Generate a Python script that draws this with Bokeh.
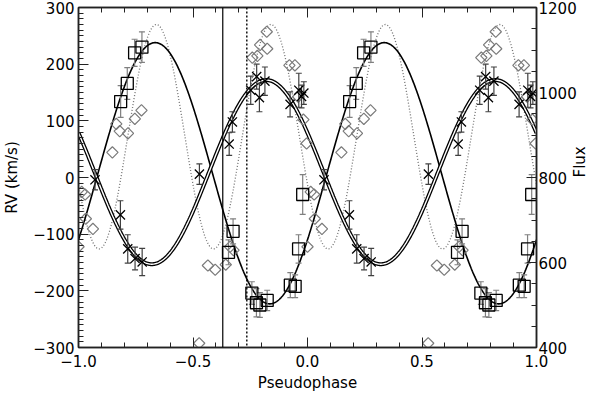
import numpy as np
from bokeh.plotting import figure
from bokeh.models import Range1d, LinearAxis, FixedTicker, ColumnDataSource, Span
from bokeh.embed import file_html
from bokeh.resources import INLINE

# ---------------- data (phase in [0,1), plotted at phase-1 and phase) -------------
sq_phase = [0.184, 0.213, 0.245, 0.277, 0.655, 0.675, 0.757, 0.777, 0.792, 0.824,
            0.925, 0.946, 0.961, 0.979]
sq_rv = [134, 166, 220, 230, -132, -95, -204, -221, -225, -217,
         -190, -192, -126, -30]
sq_err = [28, 28, 24, 27, 22, 22, 20, 25, 22, 18, 22, 20, 25, 35]

xs_phase = [0.072, 0.183, 0.215, 0.247, 0.278, 0.528, 0.658, 0.672, 0.752, 0.778,
            0.790, 0.814, 0.924, 0.962, 0.974, 0.984]
xs_rv = [-4, -66, -126, -143, -149, 6, 59, 98, 154, 178,
         141, 170, 129, 154, 143, 149]
xs_err = [18, 25, 25, 20, 24, 18, 20, 18, 25, 22, 25, 25, 22, 30, 20, 20]

fl_phase = [0.000, 0.014, 0.029, 0.032, 0.063, 0.148, 0.165, 0.180, 0.216, 0.246,
            0.275, 0.527, 0.565, 0.597, 0.643, 0.662, 0.677, 0.759, 0.781, 0.793,
            0.822, 0.824, 0.921, 0.945, 0.959, 0.982, 0.996]
fl_flux = [637, 766, 760, 703, 679, 859, 926, 909, 904, 938,
           958, 410, 593, 583, 595, 637, 629, 1082, 1086, 1112,
           1143, 1103, 1064, 1064, 990, 936, 880]

# fitted model curves: parameters
sq_gamma, sq_K, sq_phase_max = 7.5, 230.5, 0.335
xs_gamma, xs_K, xs_phase_max = 9.5, 162.5, 0.82
fl_mean, fl_amp, fl_phase_max = 896.0, 264.0, 0.34   # ellipsoidal (half-period)

vline_solid = -0.37
vline_dotted = -0.265

rv_ticks = [-300, -200, -100, 0, 100, 200, 300]
rv_labels = ["\u2212300", "\u2212200", "\u2212100", "0", "100", "200", "300"]
flux_ticks = [400, 600, 800, 1000, 1200]
flux_labels = ["400", "600", "800", "1000", "1200"]
ph_ticks = [-1.0, -0.5, 0.0, 0.5, 1.0]
ph_labels = ["\u22121.0", "\u22120.5", "0.0", "0.5", "1.0"]


def two_cycles(ph, *vals):
    out = [[v - 1 for v in ph] + list(ph)]
    for v in vals:
        out.append(list(v) * 2)
    return out


FONT = "DejaVu Sans"
FS = "15px"

p = figure(width=600, height=395, x_range=Range1d(-1, 1), y_range=Range1d(-300, 300),
           output_backend="svg", toolbar_location=None,
           min_border_left=78, min_border_right=62, min_border_top=7, min_border_bottom=48)
p.extra_y_ranges = {"flux": Range1d(400, 1200)}
p.xgrid.visible = False
p.ygrid.visible = False
p.outline_line_color = "#222222"
p.outline_line_width = 1.5
p.background_fill_color = "white"
p.border_fill_color = "white"

# ---------------- axes ----------------
def style_axis(ax):
    ax.axis_line_color = "#222222"
    ax.axis_line_width = 1.5
    ax.major_tick_line_color = "#222222"
    ax.minor_tick_line_color = "#222222"
    ax.major_tick_in = 10
    ax.major_tick_out = 0
    ax.minor_tick_in = 5
    ax.minor_tick_out = 0
    ax.major_label_text_font = FONT
    ax.major_label_text_font_size = FS
    ax.major_label_text_color = "black"
    ax.axis_label_text_font = FONT
    ax.axis_label_text_font_size = FS
    ax.axis_label_text_font_style = "normal"
    ax.axis_label_text_color = "black"


ph_minor = [round(-1 + 0.1 * i, 2) for i in range(21)]

xaxis = p.xaxis[0]
style_axis(xaxis)
xaxis.ticker = FixedTicker(ticks=ph_ticks, minor_ticks=ph_minor)
xaxis.major_label_overrides = dict(zip(ph_ticks, ph_labels))
xaxis.axis_label = "Pseudophase"
xaxis.major_label_standoff = 7
xaxis.axis_label_standoff = 4

yaxis = p.yaxis[0]
style_axis(yaxis)
yaxis.ticker = FixedTicker(ticks=rv_ticks, minor_ticks=list(range(-300, 301, 10)))
yaxis.major_label_overrides = dict(zip(rv_ticks, rv_labels))
yaxis.axis_label = "RV (km/s)"
yaxis.major_label_standoff = 4
yaxis.axis_label_standoff = 9

raxis = LinearAxis(y_range_name="flux", axis_label="Flux")
style_axis(raxis)
raxis.ticker = FixedTicker(ticks=flux_ticks, minor_ticks=list(range(400, 1201, 50)))
raxis.major_label_overrides = dict(zip(flux_ticks, flux_labels))
raxis.major_label_standoff = 2
raxis.axis_label_standoff = 0
try:
    raxis.axis_label_orientation = np.pi / 2
except Exception:
    pass
p.add_layout(raxis, "right")

taxis = LinearAxis()
style_axis(taxis)
taxis.ticker = FixedTicker(ticks=ph_ticks, minor_ticks=ph_minor)
taxis.major_label_overrides = {t: "" for t in ph_ticks}
taxis.major_label_text_font_size = "0px"
taxis.major_label_standoff = 0
p.add_layout(taxis, "above")

# ---------------- model curves ----------------
xg = np.linspace(-1, 1, 801)
rv_sq_model = sq_gamma + sq_K * np.cos(2 * np.pi * (xg - sq_phase_max))
rv_xs_model = xs_gamma + xs_K * np.cos(2 * np.pi * (xg - xs_phase_max))
fl_model = fl_mean + fl_amp * np.cos(4 * np.pi * (xg - fl_phase_max))

p.line(xg, fl_model, y_range_name="flux", line_color="#707070", line_width=1.3, line_dash="1 2")
p.line(xg, rv_sq_model, line_color="black", line_width=1.6)
p.line(xg, rv_xs_model, line_color="black", line_width=4.0)
p.line(xg, rv_xs_model, line_color="white", line_width=1.4)

p.add_layout(Span(location=vline_solid, dimension="height", line_color="black", line_width=1.2))
p.add_layout(Span(location=vline_dotted, dimension="height", line_color="black", line_width=1.4,
                  line_dash="2 2"))

# ---------------- flux diamonds ----------------
fx, fy = two_cycles(fl_phase, fl_flux)
p.scatter(fx, fy, y_range_name="flux", marker="square", angle=np.pi / 4, size=8,
          fill_color=None, line_color="#7a7a7a", line_width=1.2)

# ---------------- RV points with error bars ----------------
def rv_points(ph, rv, err, marker, size, bar_color):
    x, y, e = two_cycles(ph, rv, err)
    lo = [a - b for a, b in zip(y, e)]
    hi = [a + b for a, b in zip(y, e)]
    src = ColumnDataSource(dict(x=x, y=y, lo=lo, hi=hi))
    p.segment(x0="x", y0="lo", x1="x", y1="hi", source=src, line_color=bar_color, line_width=1.2)
    p.scatter(x="x", y="lo", source=src, marker="dash", size=6, line_color=bar_color, line_width=1.2)
    p.scatter(x="x", y="hi", source=src, marker="dash", size=6, line_color=bar_color, line_width=1.2)
    p.scatter(x="x", y="y", source=src, marker=marker, size=size, fill_color=None,
              line_color="black", line_width=1.3)


rv_points(sq_phase, sq_rv, sq_err, "square", 12, "#808080")
rv_points(xs_phase, xs_rv, xs_err, "x", 13, "#404040")

open("out.html", "w").write(file_html(p, INLINE))
